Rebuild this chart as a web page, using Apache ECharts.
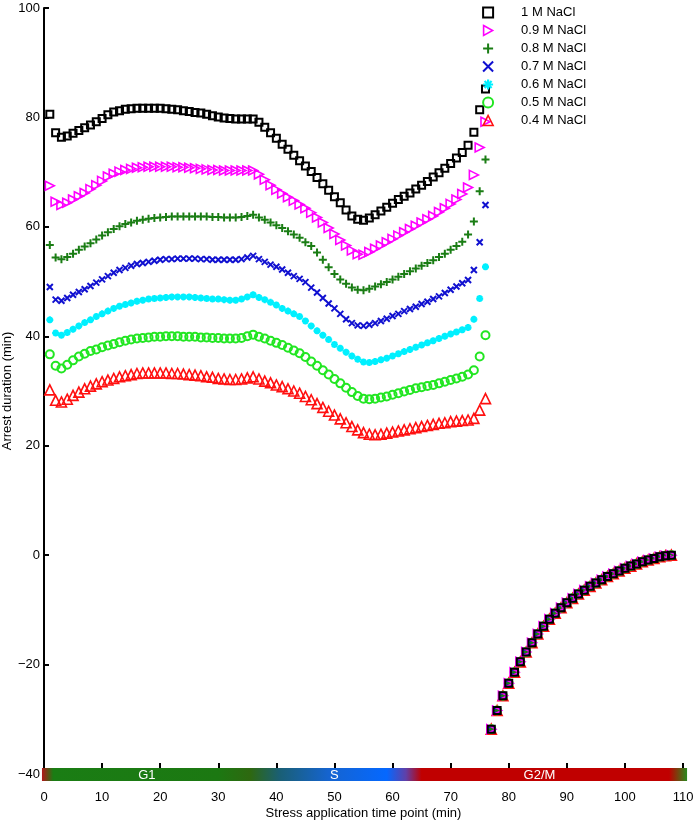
<!DOCTYPE html>
<html>
<head>
<meta charset="utf-8">
<script src="https://cdn.jsdelivr.net/npm/echarts@6/dist/echarts.min.js"></script>
<style>
html,body{margin:0;padding:0;background:#fff;}
#chart{width:698px;height:825px;}
</style>
</head>
<body>
<div id="chart"></div>
<script>
// ---------- DATA ----------
const seriesNames = ['1 M NaCl','0.9 M NaCl','0.8 M NaCl','0.7 M NaCl','0.6 M NaCl','0.5 M NaCl','0.4 M NaCl'];
const firstTime = 1;

const nacl10 = [80.6,77.2,76.4,76.6,77.1,77.6,78.1,78.6,79.2,79.8,80.5,81.0,81.2,81.5,81.6,81.7,81.7,81.7,81.7,81.7,
81.6,81.5,81.4,81.2,81.1,80.9,80.8,80.6,80.3,80.1,79.9,79.8,79.7,79.7,79.7,79.7,79.1,78.2,77.2,76.2,
75.1,74.2,73.1,72.1,71.1,70.1,69.0,67.9,66.7,65.5,64.4,63.1,62.0,61.4,61.2,61.6,62.2,62.9,63.6,64.3,
65.0,65.6,66.2,66.9,67.6,68.3,69.1,69.9,70.7,71.6,72.6,73.6,74.9,77.3,81.4,85.2];
const nacl09 = [67.5,64.6,64.0,64.4,65.0,65.6,66.2,66.9,67.6,68.4,69.2,69.7,70.1,70.4,70.6,70.8,70.9,71.0,71.0,71.0,
71.0,71.0,70.9,70.9,70.8,70.7,70.6,70.5,70.4,70.4,70.3,70.3,70.3,70.3,70.3,70.3,69.6,68.6,67.6,66.8,
66.1,65.4,64.8,64.1,63.4,62.6,61.7,60.8,59.8,58.7,57.6,56.6,55.7,55.0,54.9,55.4,56.0,56.6,57.2,57.8,
58.4,59.0,59.6,60.2,60.8,61.4,62.0,62.7,63.4,64.2,65.0,66.0,67.2,69.5,74.5,79.2];
const nacl08 = [56.7,54.4,54.1,54.5,55.1,55.8,56.4,57.0,57.7,58.4,59.0,59.6,60.1,60.5,60.8,61.1,61.3,61.5,61.6,61.7,
61.8,61.9,61.9,61.9,61.9,61.9,61.9,61.9,61.8,61.8,61.7,61.7,61.7,61.8,62.0,62.2,61.7,61.3,60.8,60.3,
59.8,59.2,58.6,58.0,57.2,56.5,55.3,54.0,52.6,51.4,50.4,49.6,48.9,48.5,48.4,48.7,49.1,49.5,49.9,50.4,
50.9,51.4,51.9,52.4,52.9,53.4,53.9,54.5,55.1,55.8,56.5,57.3,58.6,61.0,66.5,72.3];
const nacl07 = [49.0,46.7,46.5,47.0,47.6,48.1,48.6,49.2,49.8,50.4,51.0,51.6,52.1,52.5,52.9,53.2,53.4,53.6,53.8,54.0,
54.1,54.1,54.2,54.2,54.2,54.2,54.1,54.1,54.0,54.0,54.0,54.0,54.0,54.1,54.4,54.7,54.1,53.6,53.1,52.7,
52.2,51.6,51.0,50.5,49.9,48.9,48.0,47.0,46.0,45.1,44.1,43.1,42.4,42.0,41.9,42.1,42.4,42.8,43.2,43.7,
44.1,44.6,45.0,45.4,45.9,46.3,46.8,47.3,47.9,48.5,49.1,49.7,50.3,52.1,57.2,64.0];
const nacl06 = [43.0,40.6,40.2,40.7,41.3,41.9,42.5,43.0,43.6,44.1,44.6,45.1,45.5,45.8,46.1,46.4,46.6,46.8,46.9,47.0,
47.1,47.2,47.2,47.2,47.2,47.1,47.0,46.9,46.8,46.8,46.7,46.6,46.6,46.8,47.2,47.6,47.1,46.7,46.2,45.7,
45.1,44.6,44.1,43.6,42.8,41.9,41.0,40.2,39.4,38.5,37.8,37.1,36.4,35.8,35.3,35.2,35.4,35.7,36.0,36.4,
36.8,37.2,37.6,38.0,38.4,38.8,39.2,39.6,40.0,40.4,40.8,41.2,41.6,43.1,46.9,52.7];
const nacl05 = [36.7,34.6,34.1,34.8,35.6,36.3,36.8,37.3,37.6,38.0,38.3,38.6,38.9,39.2,39.4,39.6,39.7,39.8,39.9,39.9,
40.0,40.0,40.0,39.9,39.9,39.9,39.8,39.8,39.7,39.7,39.6,39.6,39.6,39.7,40.0,40.3,39.9,39.6,39.2,38.8,
38.4,37.9,37.4,36.9,36.2,35.4,34.6,33.8,33.0,32.2,31.4,30.6,29.8,29.1,28.6,28.5,28.6,28.8,29.0,29.3,
29.6,29.9,30.2,30.5,30.7,30.9,31.1,31.4,31.7,32.0,32.3,32.6,33.0,33.8,36.3,40.2];
const nacl04 = [30.2,28.3,28.0,28.5,29.2,29.8,30.4,30.9,31.3,31.7,32.0,32.3,32.6,32.8,33.0,33.2,33.3,33.3,33.3,33.3,
33.3,33.2,33.2,33.1,33.0,32.9,32.8,32.6,32.5,32.3,32.2,32.1,32.1,32.2,32.4,32.6,32.2,31.8,31.5,31.1,
30.8,30.4,30.0,29.6,29.0,28.4,27.7,27.0,26.3,25.6,24.9,24.2,23.5,22.9,22.4,22.1,22.0,22.1,22.3,22.5,
22.7,22.9,23.1,23.3,23.5,23.7,23.9,24.1,24.2,24.4,24.5,24.6,24.7,25.0,26.5,28.6];
// shared post-arrest tail, t = 77 .. 108
const tailValues = [-31.8,-28.4,-25.7,-23.4,-21.4,-19.5,-17.7,-16.0,-14.4,-13.0,-11.7,-10.6,-9.6,-8.7,-7.9,-7.1,
-6.4,-5.7,-5.1,-4.5,-3.9,-3.4,-2.9,-2.4,-2.0,-1.6,-1.2,-0.9,-0.6,-0.3,-0.1,0.0];

const xTicks = [0,10,20,30,40,50,60,70,80,90,100,110];
const yTicks = [-40,-20,0,20,40,60,80,100];

// cell-cycle phase bar
const phaseLabels = ['G1','S','G2/M'];
const phaseCenters = [17.7, 50, 85.3];
const barRange = [-0.35, 110.7];
const phaseColorStops = [[-0.35,'#b3161a'],[1.6,'#1a7d14'],[30,'#1c7812'],[35.5,'#2e6810'],[40.5,'#1a5f74'],
  [49,'#1564d0'],[59,'#0568ff'],[62.3,'#6040a8'],[65,'#c00000'],[107.6,'#c00000'],[110.7,'#2a8a1e']];

// ---------- BUILD ----------
const allSeriesValues = [nacl10, nacl09, nacl08, nacl07, nacl06, nacl05, nacl04];
function buildPoints(vals){
  const full = vals.concat(tailValues);
  const pts = [];
  for (let i = 0; i < full.length; i++) pts.push([firstTime + i, full[i]]);
  return pts;
}
const FONT = 'Liberation Sans, Arial, Helvetica, sans-serif';
const plusPath = 'path://M5,0L5,10M0,5L10,5';
const crossPath = 'path://M0,0L10,10M10,0L0,10';
const starPath = 'path://M5,0L5,10M0,5L10,5M1.5,1.5L8.5,8.5M8.5,1.5L1.5,8.5';
const rightTriPath = 'path://M0,0L9,5L0,10Z';
const styles = [
  {symbol:'rect', size:7, color:'#000000', bw:2},
  {symbol:rightTriPath, size:9, color:'#ff00ff', bw:1.6},
  {symbol:plusPath, size:8, color:'#1a7d14', bw:2},
  {symbol:crossPath, size:6, color:'#1010d0', bw:2},
  {symbol:starPath, size:7, color:'#00f0ff', bw:2.2},
  {symbol:'circle', size:8, color:'#22e622', bw:2},
  {symbol:'triangle', size:10, color:'#ff1010', bw:1.6}
];

const series = [];
for (let i = seriesNames.length - 1; i >= 0; i--) {
  const s = styles[i];
  series.push({
    name: seriesNames[i],
    type: 'scatter',
    data: buildPoints(allSeriesValues[i]),
    symbol: s.symbol,
    symbolSize: s.size,
    itemStyle: {color: 'rgba(0,0,0,0)', borderColor: s.color, borderWidth: s.bw, opacity: 1},
    emphasis: {disabled: true},
    z: 3
  });
}
series.push({
  type: 'custom',
  name: 'phases',
  silent: true,
  clip: false,
  z: 5,
  data: [[0, yTicks[0]]],
  renderItem: function(params, api){
    const p0 = api.coord([barRange[0], yTicks[0]]);
    const p1 = api.coord([barRange[1], yTicks[0]]);
    const span = barRange[1] - barRange[0];
    const stops = phaseColorStops.map(s => ({offset: (s[0]-barRange[0])/span, color: s[1]}));
    const children = [{
      type: 'rect',
      shape: {x: p0[0], y: p0[1]-6, width: p1[0]-p0[0], height: 13},
      style: {fill: new echarts.graphic.LinearGradient(0,0,1,0,stops)}
    }];
    phaseLabels.forEach((lab, k) => {
      const c = api.coord([phaseCenters[k], yTicks[0]]);
      children.push({type:'text', style:{text: lab, x: c[0], y: c[1]+1, fill:'#ffffff', font:'13px ' + FONT, align:'center', verticalAlign:'middle'}});
    });
    return {type:'group', children: children};
  }
});

const legendData = seriesNames.map((n, i) => ({
  name: n,
  icon: styles[i].symbol,
  itemStyle: {color: 'rgba(0,0,0,0)', borderColor: styles[i].color, borderWidth: styles[i].bw}
}));

const chart = echarts.init(document.getElementById('chart'), null, {renderer:'canvas'});
chart.setOption({
  animation: false,
  backgroundColor: '#ffffff',
  textStyle: {fontFamily: FONT},
  grid: {left: 44, top: 8, width: 639, height: 766, containLabel: false, outerBoundsMode: 'none'},
  legend: {
    data: legendData,
    orient: 'vertical',
    left: 477,
    top: 1,
    itemWidth: 10,
    itemHeight: 10,
    itemGap: 5,
    selectedMode: false,
    textStyle: {fontSize: 13, color: '#000', fontFamily: FONT, padding: [0,0,0,23]}
  },
  xAxis: {
    type: 'value',
    min: xTicks[0], max: xTicks[xTicks.length-1], interval: 10,
    name: 'Stress application time point (min)',
    nameLocation: 'middle', nameGap: 33, nameMoveOverlap: false,
    nameTextStyle: {fontSize: 13, color: '#000', fontFamily: FONT},
    axisLine: {show: true, onZero: false, lineStyle: {color: '#000', width: 2}},
    axisTick: {show: true, inside: true, length: 11, lineStyle: {color: '#000', width: 2}},
    axisLabel: {fontSize: 13, color: '#000', margin: 17, fontFamily: FONT},
    splitLine: {show: false}
  },
  yAxis: {
    type: 'value',
    min: yTicks[0], max: yTicks[yTicks.length-1], interval: 20,
    name: 'Arrest duration (min)',
    nameLocation: 'middle', nameGap: 30, nameMoveOverlap: false,
    nameTextStyle: {fontSize: 13, color: '#000', fontFamily: FONT},
    axisLine: {show: true, onZero: false, lineStyle: {color: '#000', width: 2}},
    axisTick: {show: true, inside: true, length: 5, lineStyle: {color: '#000', width: 2}},
    axisLabel: {fontSize: 13, color: '#000', margin: 4, fontFamily: FONT,
      formatter: v => String(v).replace('-', '\u2212')},
    splitLine: {show: false}
  },
  series: series
});
</script>
</body>
</html>
